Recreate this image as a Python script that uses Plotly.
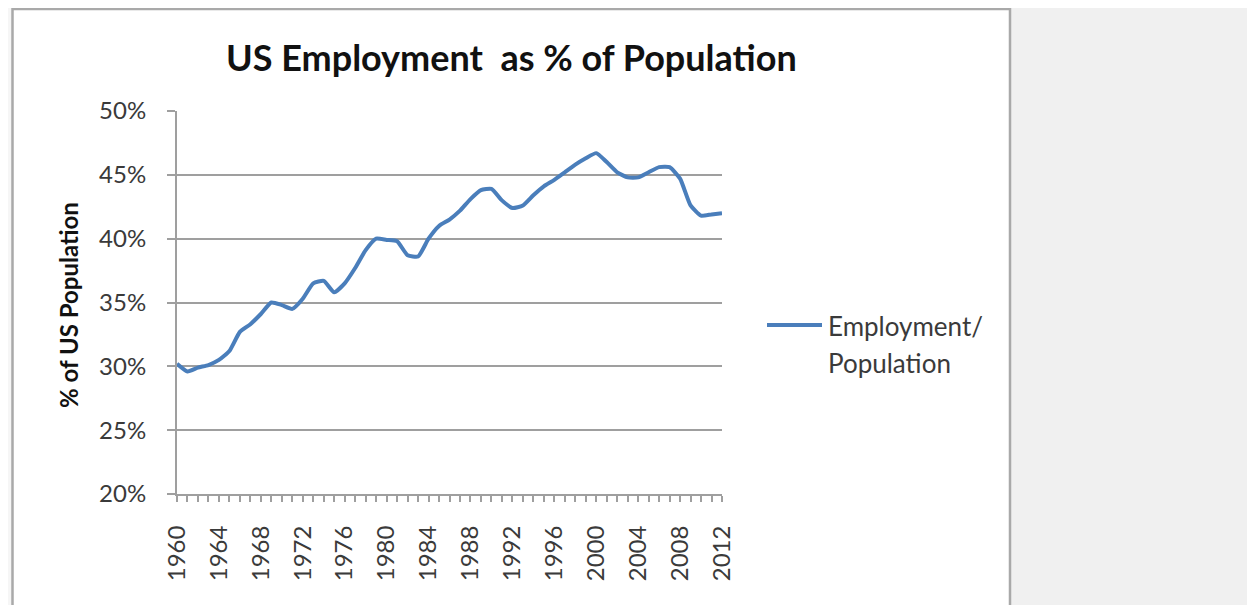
import plotly.graph_objects as go

# ---- data ----
years = list(range(1960, 2013))
employment_pct = [
    30.2, 29.6, 29.9, 30.1, 30.5, 31.2, 32.7, 33.3, 34.1, 35.0,
    34.8, 34.5, 35.3, 36.5, 36.7, 35.8, 36.5, 37.7, 39.1, 40.0,
    39.9, 39.8, 38.7, 38.6, 40.0, 41.0, 41.5, 42.2, 43.1, 43.8,
    43.9, 43.0, 42.4, 42.6, 43.4, 44.1, 44.6, 45.2, 45.8, 46.3,
    46.7, 46.0, 45.2, 44.8, 44.8, 45.2, 45.6, 45.6, 44.7, 42.6,
    41.8, 41.9, 42.0,
]
series_name = "Employment/Population"
x_tick_years = list(range(1960, 2013, 4))
y_ticks = [20, 25, 30, 35, 40, 45, 50]
y_tick_labels = [f"{v}%" for v in y_ticks]
title_text = "US Employment\u00a0 as % of Population"
y_title = "% of US Population"

# ---- layout geometry (pixels, in page coordinates) ----
W, H = 1255, 605
OFF = 8  # page body margin
L, R, T, B = 177, 722, 111, 494


def px(x):
    return (x - L) / (R - L)


def py(y):
    return (B - y) / (B - T)


FONT = "Lato"
LINE_COLOR = "#4a7ebb"
GRID = "#9f9f9f"
TXT = "#3a3a3a"

fig = go.Figure()
fig.add_trace(go.Scatter(
    x=years, y=employment_pct, mode="lines", name=series_name,
    line=dict(color=LINE_COLOR, width=4, shape="spline", smoothing=0.5),
    showlegend=False,
))

shapes = [
    dict(type="rect", xref="paper", yref="paper", x0=px(OFF), x1=px(12), y0=py(H + 10), y1=py(OFF),
         fillcolor="#f6f6f6", line_width=0, layer="below"),
    dict(type="rect", xref="paper", yref="paper", x0=px(1011), x1=px(W + 10), y0=py(H + 10), y1=py(OFF),
         fillcolor="#f0f0f0", line_width=0, layer="below"),
    # chart frame
    dict(type="line", xref="paper", yref="paper", x0=px(12.5), x1=px(12.5), y0=py(H + 10), y1=py(8),
         line=dict(color="#a9a9a9", width=2.5)),
    dict(type="line", xref="paper", yref="paper", x0=px(12), x1=px(1010), y0=py(9), y1=py(9),
         line=dict(color="#a9a9a9", width=2.5)),
    dict(type="line", xref="paper", yref="paper", x0=px(1010), x1=px(1010), y0=py(H + 10), y1=py(8),
         line=dict(color="#a9a9a9", width=2.5)),
    # legend sample line
    dict(type="line", xref="paper", yref="paper", x0=px(767), x1=px(822), y0=py(325), y1=py(325),
         line=dict(color=LINE_COLOR, width=4)),
]

leg1, leg2 = series_name.split("/")
annotations = [
    dict(text=f"<b>{title_text}</b>", xref="paper", yref="paper", x=px(511), y=py(57),
         xanchor="center", yanchor="middle", showarrow=False,
         font=dict(family=FONT, size=36, color="#111111")),
    dict(text=f"<b>{y_title}</b>", xref="paper", yref="paper", x=px(68), y=py(305),
         xanchor="center", yanchor="middle", textangle=-90, showarrow=False,
         font=dict(family=FONT, size=24, color="#111111")),
    dict(text=leg1 + "/", xref="paper", yref="paper", x=px(826), y=py(326),
         xanchor="left", yanchor="middle", showarrow=False,
         font=dict(family=FONT, size=26, color=TXT)),
    dict(text=leg2, xref="paper", yref="paper", x=px(826), y=py(363),
         xanchor="left", yanchor="middle", showarrow=False,
         font=dict(family=FONT, size=26, color=TXT)),
]

fig.update_layout(
    width=W - OFF, height=H - OFF,
    margin=dict(l=L - OFF, r=W - R, t=T - OFF, b=H - B, pad=0),
    paper_bgcolor="white", plot_bgcolor="white",
    shapes=shapes, annotations=annotations,
    font=dict(family=FONT, color=TXT),
)
fig.update_xaxes(
    range=[1960, 2012], tickvals=x_tick_years, ticktext=[str(y) for y in x_tick_years],
    tickangle=-90, showgrid=False, zeroline=False,
    showline=True, linecolor=GRID, linewidth=2,
    ticks="outside", ticklen=6, tickwidth=1.5, tickcolor=GRID,
    minor=dict(dtick=1, ticks="outside", ticklen=6, tickwidth=1.5, tickcolor=GRID, showgrid=False),
    tickfont=dict(family=FONT, size=24, color=TXT), ticklabelstandoff=14,
)
fig.update_yaxes(
    range=[20, 50], tickvals=y_ticks, ticktext=y_tick_labels,
    showgrid=True, gridcolor=GRID, gridwidth=2, zeroline=False,
    showline=True, linecolor=GRID, linewidth=2,
    ticks="outside", ticklen=8, tickwidth=2, tickcolor=GRID,
    tickfont=dict(family=FONT, size=24, color=TXT), ticklabelstandoff=16,
)

fig.write_html("out.html")
